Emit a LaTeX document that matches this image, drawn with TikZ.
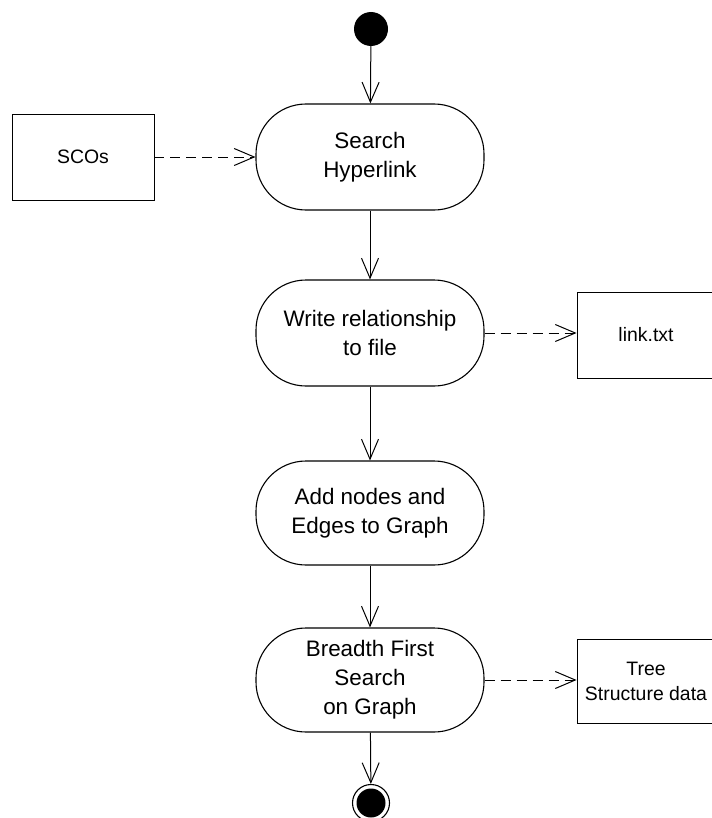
\documentclass[tikz,border=0pt]{standalone}
\usepackage{fontspec}
\setmainfont{Liberation Sans}
\usetikzlibrary{arrows.meta}

\begin{document}
\begin{tikzpicture}[x = 1bp, y = -1bp]
\tikzstyle{ActStyle}=[
draw,
rounded corners = 50bp,
minimum width = 228bp,
minimum height = 106bp,
align = center,
line width = 1.1bp,
font = \fontsize{22.5}{29}\selectfont]
\tikzstyle{DataStyle}=[
draw,
minimum width = 138bp,
minimum height = 86bp,
align = center,
line width = 0.9bp,
font = \fontsize{19.5}{25}\selectfont]
\tikzstyle{flow}=[-{Straight Barb[length = 20bp, width = 17bp]}, line width = 1bp]
\tikzstyle{dep}=[flow, dash pattern = on 10bp off 6bp]
\useasboundingbox (0,0) rectangle (712,818);
\node[circle, fill, minimum size = 34bp, inner sep = 0pt] (start) at (371,29) {};
\node[ActStyle] (search) at (370,157) {Search\\Hyperlink};
\node[ActStyle] (write) at (370,333) {Write relationship\\to file};
\node[ActStyle, minimum height = 104bp] (add) at (370,513) {Add nodes and\\Edges to Graph};
\node[ActStyle, minimum height = 104bp] (bfs) at (370,680) {Breadth First\\Search\\on Graph};
\node[circle, draw, line width = 1.1bp, minimum size = 37bp, inner sep = 0pt] (stop) at (371,803) {};
\node[circle, fill, minimum size = 29bp, inner sep = 0pt] (stopdot) at (stop) {};
\node[DataStyle, minimum width = 142bp] (scos) at (83,157) {SCOs};
\node[DataStyle] (link) at (646,335) {link.txt};
\node[DataStyle, minimum height = 84bp] (tree) at (646,681) {Tree\\Structure data};
\draw[flow] (start) -- (search);
\draw[flow] (search) -- (write);
\draw[flow] (write) -- (add);
\draw[flow] (add) -- (bfs);
\draw[flow] (bfs) -- (stop);
\draw[dep] (scos.east) -- (search.west);
\draw[dep] (write.east) -- (write.east -| link.west);
\draw[dep] (bfs.east) -- (bfs.east -| tree.west);
\end{tikzpicture}
\end{document}
